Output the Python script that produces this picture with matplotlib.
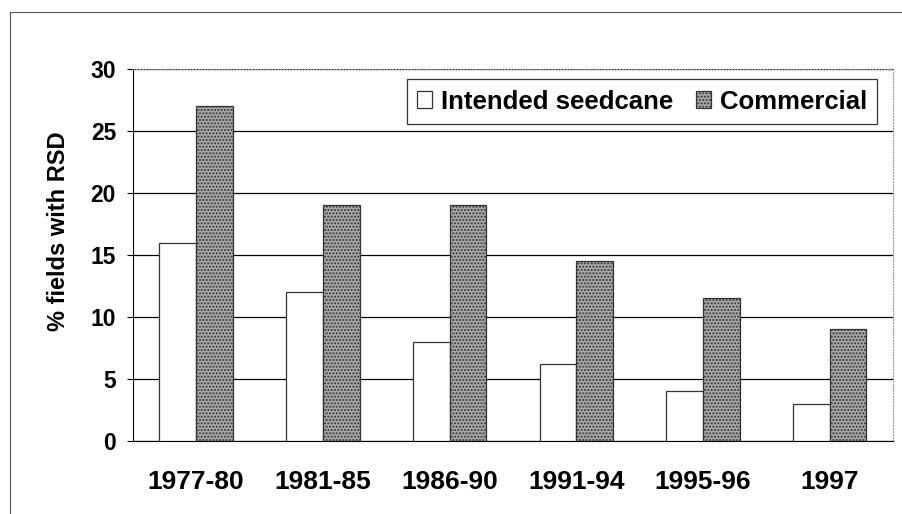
import matplotlib.pyplot as plt
import numpy as np
from matplotlib.patches import Rectangle

# Data
periods = ['1977-80', '1981-85', '1986-90', '1991-94', '1995-96', '1997']
seedcane = [16, 12, 8, 6.2, 4, 3]
commercial = [27, 19, 19, 14.5, 11.5, 9]

plt.rcParams['font.family'] = ['Liberation Sans', 'DejaVu Sans']
plt.rcParams['hatch.color'] = '#7a7a7a'

fig = plt.figure(figsize=(9.03, 5.14), dpi=100)
ax = fig.add_axes([0.147, 0.142, 0.842, 0.724])

# frame around the chart (scanned border)
fig.patches.append(Rectangle((0.011, -0.1), 1.2, 1.077, transform=fig.transFigure,
                             fill=False, edgecolor='#555555', linewidth=0.8))

x = np.arange(len(periods))
w = 0.29
ax.bar(x - w / 2, seedcane, w, color='white', edgecolor='#333333', linewidth=0.9,
       label='Intended seedcane', zorder=3)
ax.bar(x + w / 2, commercial, w, color='#a9a9a9', edgecolor='#333333', linewidth=0.9,
       hatch='.....', label='Commercial', zorder=3)

ax.set_xlim(-0.5, 5.5)
ax.set_ylim(0, 30)
ax.set_yticks(range(0, 31, 5))
ax.set_xticks(x)
ax.set_xticklabels(periods)
ax.tick_params(axis='x', labelsize=19, length=0, pad=21)
ax.tick_params(axis='y', labelsize=16.5, length=4, width=0.8, color='black', pad=8)
for lab in ax.get_xticklabels() + ax.get_yticklabels():
    lab.set_fontweight('bold')

ax.yaxis.grid(True, color='black', linewidth=0.9, zorder=0)
ax.set_axisbelow(True)

ax.spines['left'].set_color('black')
ax.spines['bottom'].set_color('black')
ax.spines['top'].set_color('#999999')
ax.spines['top'].set_linestyle(':')
ax.spines['right'].set_color('#999999')
ax.spines['right'].set_linestyle(':')

fig.text(59 / 903, 1 - 231 / 514, '% fields with RSD', rotation=90,
         ha='center', va='center', fontsize=17, fontweight='bold')

leg = ax.legend(loc='upper right', bbox_to_anchor=(0.979, 0.972), ncol=2,
                prop={'weight': 'bold', 'size': 18.5}, frameon=True, fancybox=False,
                edgecolor='black', handlelength=0.6, handleheight=0.6,
                handletextpad=0.32, columnspacing=0.9, borderpad=0.4,
                borderaxespad=0.0)
leg.get_frame().set_linewidth(0.9)

fig.savefig('out.png', dpi=100)
